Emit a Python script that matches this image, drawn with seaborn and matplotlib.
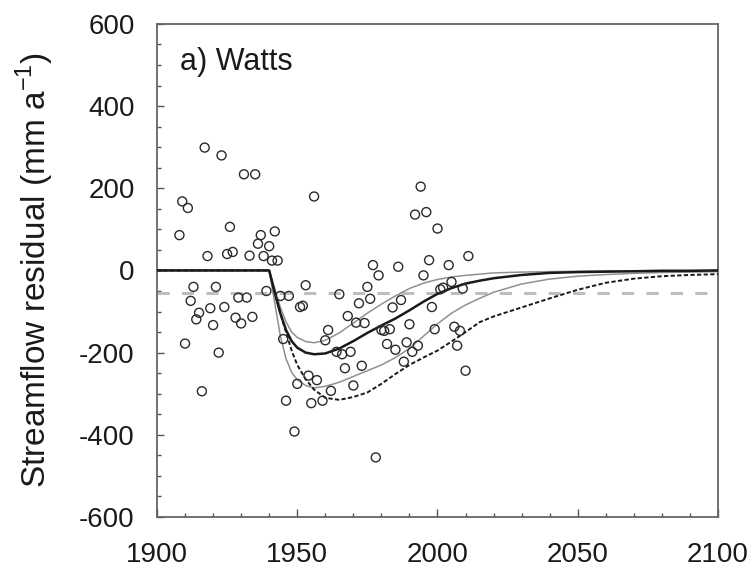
import numpy as np
import pandas as pd
import matplotlib
matplotlib.use('Agg')
import matplotlib.pyplot as plt
import seaborn as sns
from matplotlib.ticker import MultipleLocator

obs_year = [1917, 1923, 1931, 1935, 1909, 1911, 1956, 1908, 1926, 1937,
            1942, 1936, 1940, 1918, 1925, 1927, 1933, 1938, 1941, 1943,
            1913, 1921, 1912, 1929, 1932, 1939, 1944, 1947, 1953, 1951,
            1952, 1915, 1919, 1924, 1914, 1920, 1928, 1930, 1934, 1910,
            1922, 1916, 1945, 1961, 1960, 1950, 1954, 1957, 1962, 1946,
            1955, 1959, 1949,
            1994, 1992, 1996, 2000, 2011, 1997, 2004, 1977, 1986, 1979,
            1995, 2005, 2009, 2002, 2001, 1965, 1975, 1976, 1972, 1987,
            1984, 1998, 1968, 1971, 1974, 1980, 1981, 1983, 1990, 1999,
            2006, 2008, 2007, 1964, 1966, 1969, 1982, 1985, 1989, 1993,
            1991, 1988, 1967, 1973, 2010, 1970, 1978]
obs_residual = [299, 280, 234, 234, 168, 152, 180, 86, 106, 86,
                95, 65, 59, 35, 40, 45, 36, 35, 24, 24,
                -40, -40, -74, -66, -66, -50, -62, -62, -36, -89,
                -86, -103, -92, -89, -119, -133, -115, -129, -113, -178,
                -200, -294, -167, -145, -170, -276, -256, -267, -293, -317,
                -323, -317, -392,
                204, 136, 142, 102, 35, 25, 13, 13, 9, -12,
                -12, -28, -44, -42, -46, -58, -40, -69, -80, -72,
                -90, -89, -111, -127, -128, -145, -147, -143, -131, -143,
                -137, -147, -183, -198, -204, -198, -179, -193, -175, -183,
                -198, -222, -238, -232, -244, -280, -455]

# modelled curves
curve_year = [1900, 1940, 1942, 1944, 1946, 1948, 1950, 1953, 1956, 1960,
              1965, 1970, 1975, 1980, 1985, 1990, 1995, 2000, 2005, 2010,
              2015, 2020, 2030, 2040, 2050, 2060, 2070, 2080, 2090, 2100]
upper_band = [0, 0, -45, -90, -125, -150, -163, -173, -176, -170,
              -152, -128, -104, -82, -62, -44, -31, -22, -16, -12,
              -9, -6, -4, -3, -2, -1, -1, 0, 0, 0]
best_fit = [0, 0, -55, -105, -145, -172, -188, -200, -204, -202,
            -190, -172, -152, -134, -117, -97, -76, -57, -43, -32,
            -25, -19, -11, -6, -4, -3, -2, -1, -1, 0]
lower_band = [0, 0, -80, -160, -215, -248, -266, -280, -286, -282,
              -272, -258, -244, -230, -212, -190, -160, -130, -104, -84,
              -68, -53, -33, -21, -14, -10, -7, -5, -4, -3]
slow_recovery = [0, 0, -55, -105, -150, -195, -230, -265, -290, -310,
                 -315, -308, -297, -276, -252, -230, -212, -195, -173, -150,
                 -126, -112, -90, -68, -47, -30, -20, -14, -11, -9]
mean_residual = -55

sns.set_style('ticks')
plt.rcParams['font.family'] = ['Liberation Sans', 'DejaVu Sans']
plt.rcParams['font.size'] = 20
plt.rcParams['axes.unicode_minus'] = False
plt.rcParams['mathtext.fontset'] = 'custom'
plt.rcParams['mathtext.rm'] = 'Liberation Sans'

fig = plt.figure(figsize=(7.53, 5.72), dpi=100)
ax = fig.add_axes([0.2085, 0.0962, 0.745, 0.862])

ax.axhline(mean_residual, color='#bdbdbd', lw=2.2, dashes=(4, 4), zorder=1)

sns.lineplot(x=curve_year, y=upper_band, ax=ax, color='#909090', lw=1.1, zorder=2)
sns.lineplot(x=curve_year, y=lower_band, ax=ax, color='#909090', lw=1.1, zorder=2)
sns.lineplot(x=curve_year, y=slow_recovery, ax=ax, color='#1a1a1a', lw=1.4,
             dashes=(2.2, 1.2), zorder=3)
sns.lineplot(x=curve_year, y=best_fit, ax=ax, color='#1a1a1a', lw=1.8, zorder=4)

sns.scatterplot(x=obs_year, y=obs_residual, ax=ax, marker='o', s=42,
                facecolor='none', edgecolor='#2a2a2a', linewidth=1.0, zorder=5)

ax.set_xlim(1900, 2100)
ax.set_ylim(-600, 600)
ax.xaxis.set_major_locator(MultipleLocator(50))
ax.xaxis.set_minor_locator(MultipleLocator(10))
ax.yaxis.set_major_locator(MultipleLocator(200))
ax.yaxis.set_minor_locator(MultipleLocator(50))
ax.tick_params(which='both', direction='in', color='#555555', labelsize=20,
               labelcolor='#1a1a1a')
ax.tick_params(axis='x', which='major', length=6, width=1, pad=18)
ax.tick_params(axis='x', which='minor', length=3, width=1)
ax.tick_params(axis='y', which='major', length=5, width=1, pad=16)
ax.tick_params(axis='y', which='minor', length=3, width=1)
for sp in ax.spines.values():
    sp.set_color('#666666')
    sp.set_linewidth(1.3)

ax.set_xlabel('')
ax.set_ylabel('Streamflow residual (mm a$^{\\mathrm{-1}}$)', fontsize=24,
              color='#1a1a1a')
ax.yaxis.set_label_coords(-0.18, 0.50)
ax.text(0.041, 0.907, 'a) Watts', transform=ax.transAxes, fontsize=22,
        ha='left', va='baseline', color='#1a1a1a')

fig.savefig('out.png', dpi=100)
